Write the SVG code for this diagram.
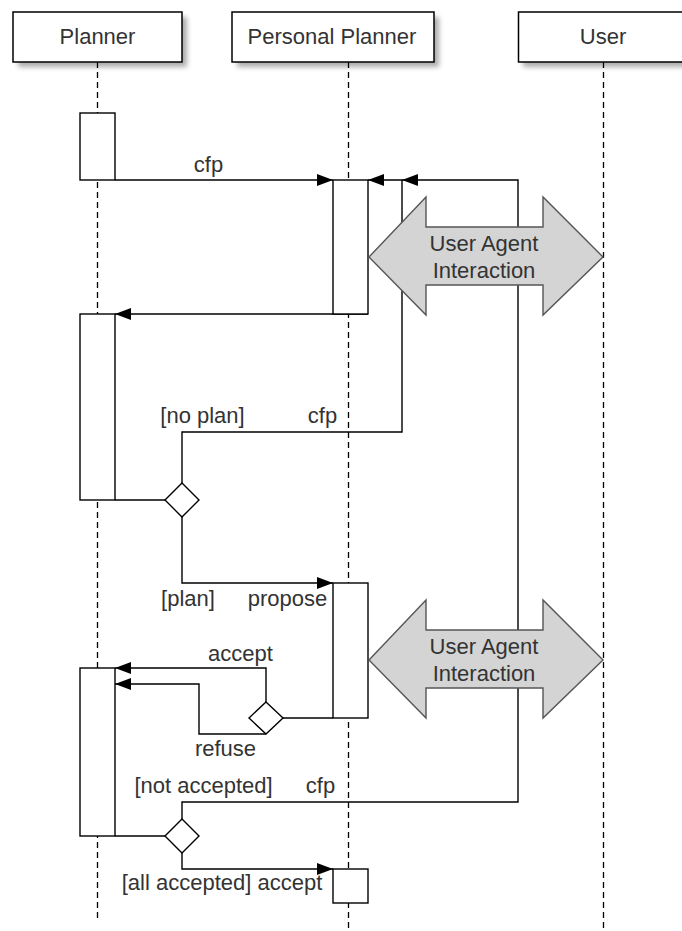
<svg xmlns="http://www.w3.org/2000/svg" width="682" height="931" viewBox="0 0 682 931">
<style>
.hdr{fill:#fff;stroke:#000;stroke-width:1.5}
.shadow{fill:#8a8a8a;opacity:0.7}
.life{stroke:#000;stroke-width:1.3;stroke-dasharray:6,4;fill:none}
.act{fill:#fff;stroke:#000;stroke-width:1.4}
.msg{fill:none;stroke:#000;stroke-width:1.4}
.dia{fill:#fff;stroke:#000;stroke-width:1.4}
.big{fill:#d4d4d4;stroke:#555;stroke-width:1.4}
text{font-family:"Liberation Sans",Arial,sans-serif;font-size:22px;fill:#333}
.c{text-anchor:middle}
</style>
<defs>
<filter id="blur" x="-10%" y="-30%" width="120%" height="160%"><feGaussianBlur stdDeviation="2.5"/></filter>
<marker id="ah" viewBox="0 0 16 12" refX="16" refY="6" markerWidth="16" markerHeight="12" orient="auto" markerUnits="userSpaceOnUse"><path d="M0,0 L16,6 L0,12 z" fill="#000"/></marker>
</defs>
<rect width="682" height="931" fill="#fff"/>

<g id="planner">
<rect class="shadow" x="18" y="17" width="169" height="50" filter="url(#blur)"/>
<rect class="hdr" x="13" y="12" width="169" height="50"/>
<text class="c" x="97.5" y="44">Planner</text>
<line class="life" x1="97.5" y1="62" x2="97.5" y2="921"/>
</g>
<g id="personal-planner">
<rect class="shadow" x="237" y="17" width="202" height="50" filter="url(#blur)"/>
<rect class="hdr" x="232" y="12" width="202" height="50"/>
<text class="c" x="332" y="44">Personal Planner</text>
<line class="life" x1="348.5" y1="62" x2="348.5" y2="931"/>
</g>
<g id="user">
<rect class="shadow" x="523" y="17" width="175" height="50" filter="url(#blur)"/>
<rect class="hdr" x="518.5" y="12" width="175" height="50"/>
<text class="c" x="603" y="44">User</text>
<line class="life" x1="603.5" y1="62" x2="603.5" y2="931"/>
</g>

<g id="connectors">
<path class="msg" d="M115,180 H333" marker-end="url(#ah)"/>
<path class="msg" d="M182,483 V432 H402 V180 H368" marker-end="url(#ah)"/>
<path class="msg" d="M182,819 V802 H518 V180 H402" marker-end="url(#ah)"/>
<path class="msg" d="M368,314 H115" marker-end="url(#ah)"/>
<path class="msg" d="M115,500 H165"/>
<path class="msg" d="M182,517 V583 H333" marker-end="url(#ah)"/>
<path class="msg" d="M333,718 H283"/>
<path class="msg" d="M266,702 V668 H115" marker-end="url(#ah)"/>
<path class="msg" d="M266,734 H199 V684 H115" marker-end="url(#ah)"/>
<path class="msg" d="M115,836 H165"/>
<path class="msg" d="M182,853 V869 H333" marker-end="url(#ah)"/>
</g>

<g id="activation-planner-1"><rect class="act" x="80" y="113" width="35" height="67"/></g>
<g id="activation-pp-1"><rect class="act" x="333" y="180" width="35" height="134"/></g>
<g id="activation-planner-2"><rect class="act" x="80" y="314" width="35" height="186"/></g>
<g id="activation-pp-2"><rect class="act" x="333" y="583" width="35" height="135"/></g>
<g id="activation-planner-3"><rect class="act" x="80" y="668" width="35" height="168"/></g>
<g id="activation-pp-3"><rect class="act" x="333" y="869" width="35" height="34"/></g>

<g id="decision-1"><path class="dia" d="M182,483 L199,500 L182,517 L165,500 Z"/></g>
<g id="decision-2"><path class="dia" d="M266,702 L283,718 L266,734 L249,718 Z"/></g>
<g id="decision-3"><path class="dia" d="M182,819 L199,836 L182,853 L165,836 Z"/></g>

<g id="interaction-1">
<path class="big" d="M369,257 L426,197 V227 H543 V197 L603,257 L543,315 V285 H426 V315 Z"/>
<text class="c" x="484" y="251">User Agent</text>
<text class="c" x="484" y="278">Interaction</text>
</g>
<g id="interaction-2">
<path class="big" d="M369,660 L426,600 V630 H543 V600 L603,660 L543,718 V688 H426 V718 Z"/>
<text class="c" x="484" y="654">User Agent</text>
<text class="c" x="484" y="681">Interaction</text>
</g>

<g id="labels">
<text class="c" x="208.5" y="172">cfp</text>
<text class="c" x="202.5" y="423">[no plan]</text>
<text class="c" x="322.5" y="423">cfp</text>
<text class="c" x="188" y="606">[plan]</text>
<text class="c" x="287.5" y="606">propose</text>
<text class="c" x="240.5" y="661">accept</text>
<text class="c" x="225.5" y="756">refuse</text>
<text class="c" x="203.5" y="793">[not accepted]</text>
<text class="c" x="320.5" y="793">cfp</text>
<text class="c" x="222" y="890">[all accepted] accept</text>
</g>
</svg>
